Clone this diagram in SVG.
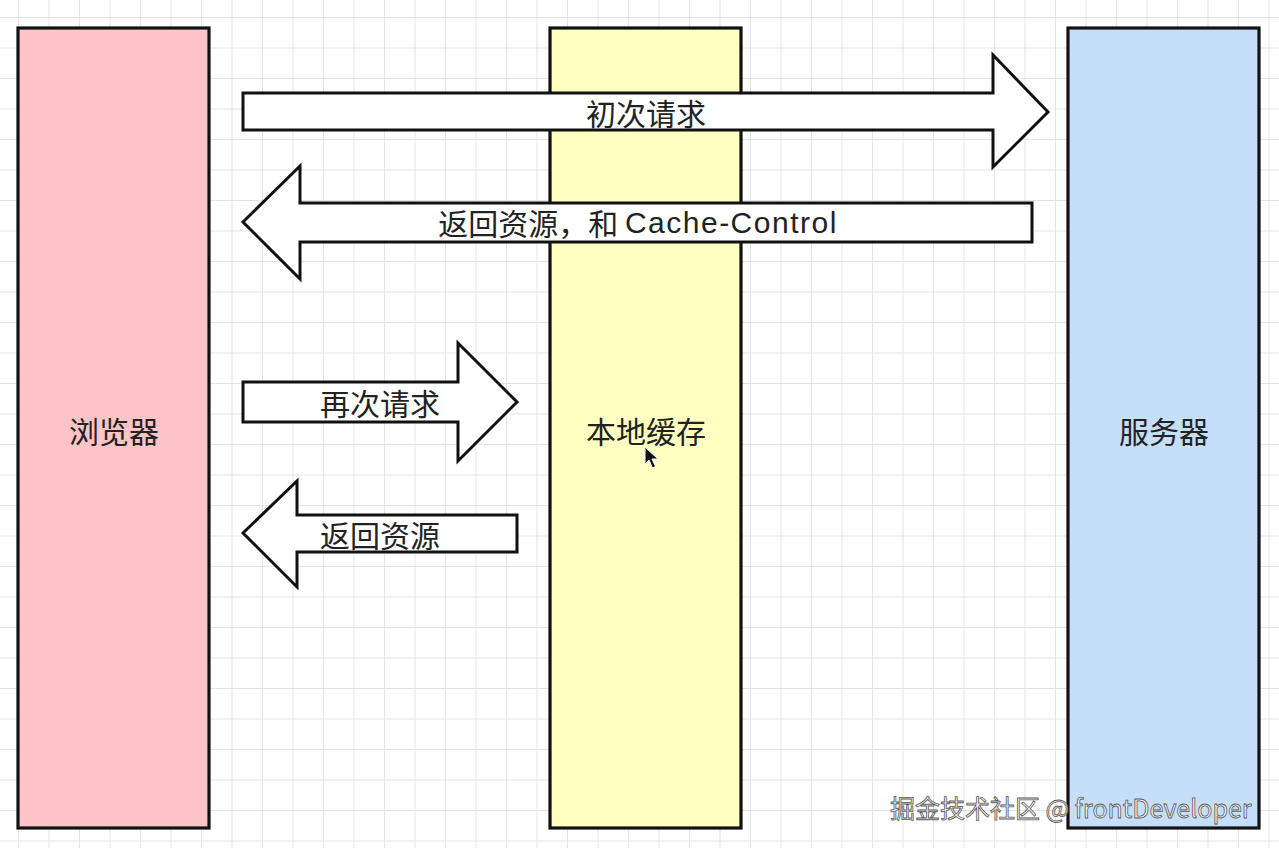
<svg xmlns="http://www.w3.org/2000/svg" width="1279" height="848" viewBox="0 0 1279 848">
  <defs>
    <pattern id="grid" patternUnits="userSpaceOnUse" x="18" y="17" width="30.5" height="30.5">
      <path d="M0 0.5 H30.5 M0.5 0 V30.5" fill="none" stroke="#e4e4e4" stroke-width="1"/>
    </pattern>
    <style>
      .box { stroke: #111; stroke-width: 3.2; }
      .arrow { fill: #fff; stroke: #111; stroke-width: 3; stroke-linejoin: miter; }
      .lbl { font-family: "Noto Sans CJK SC", "Noto Sans", sans-serif; font-size: 30px; fill: #222; text-anchor: middle; dominant-baseline: central; }
      .lat { font-family: "Liberation Sans", "Noto Sans CJK SC", sans-serif; letter-spacing: 1.5px; }
      .wm { font-family: "Noto Sans CJK SC", "Noto Sans", sans-serif; font-size: 25px; fill: #f4f4f4; stroke: #5a5a5a; stroke-width: 0.8; }
    </style>
  </defs>
  <rect width="1279" height="848" fill="#fff"/>
  <rect width="1279" height="848" fill="url(#grid)"/>

  <g id="browser">
    <rect class="box" x="18" y="28" width="191" height="800" fill="#fcc4c6"/>
    <text class="lbl" x="114" y="430">浏览器</text>
  </g>
  <g id="cache">
    <rect class="box" x="550" y="28" width="191" height="800" fill="#ffffc2"/>
    <text class="lbl" x="646" y="430">本地缓存</text>
  </g>
  <g id="server">
    <rect class="box" x="1068" y="28" width="191" height="800" fill="#c5dffa"/>
    <text class="lbl" x="1164" y="430">服务器</text>
  </g>

  <g id="connectors">
    <g id="first-request">
      <polygon class="arrow" points="243,93 993,93 993,55 1048,112 993,167 993,130 243,130"/>
      <text class="lbl" x="646" y="112">初次请求</text>
    </g>
    <g id="return-cache-control">
      <polygon class="arrow" points="1032,203 300,203 300,166 243,222 300,279 300,242 1032,242"/>
      <text class="lbl" x="638" y="222">返回资源，和 <tspan class="lat">Cache-Control</tspan></text>
    </g>
    <g id="second-request">
      <polygon class="arrow" points="243,382 458,382 458,343 517,402 458,461 458,422 243,422"/>
      <text class="lbl" x="380" y="402">再次请求</text>
    </g>
    <g id="return-resource">
      <polygon class="arrow" points="517,515 297,515 297,481 243,533 297,587 297,552 517,552"/>
      <text class="lbl" x="380" y="534">返回资源</text>
    </g>
  </g>

  <path d="M645,447 L645,464 L649,460 L652.5,468 L655.5,466.5 L652,459 L658,459 Z" fill="#111" stroke="#fff" stroke-width="1"/>

  <text class="wm" x="890" y="818">掘金技术社区 @ frontDeveloper</text>
</svg>
